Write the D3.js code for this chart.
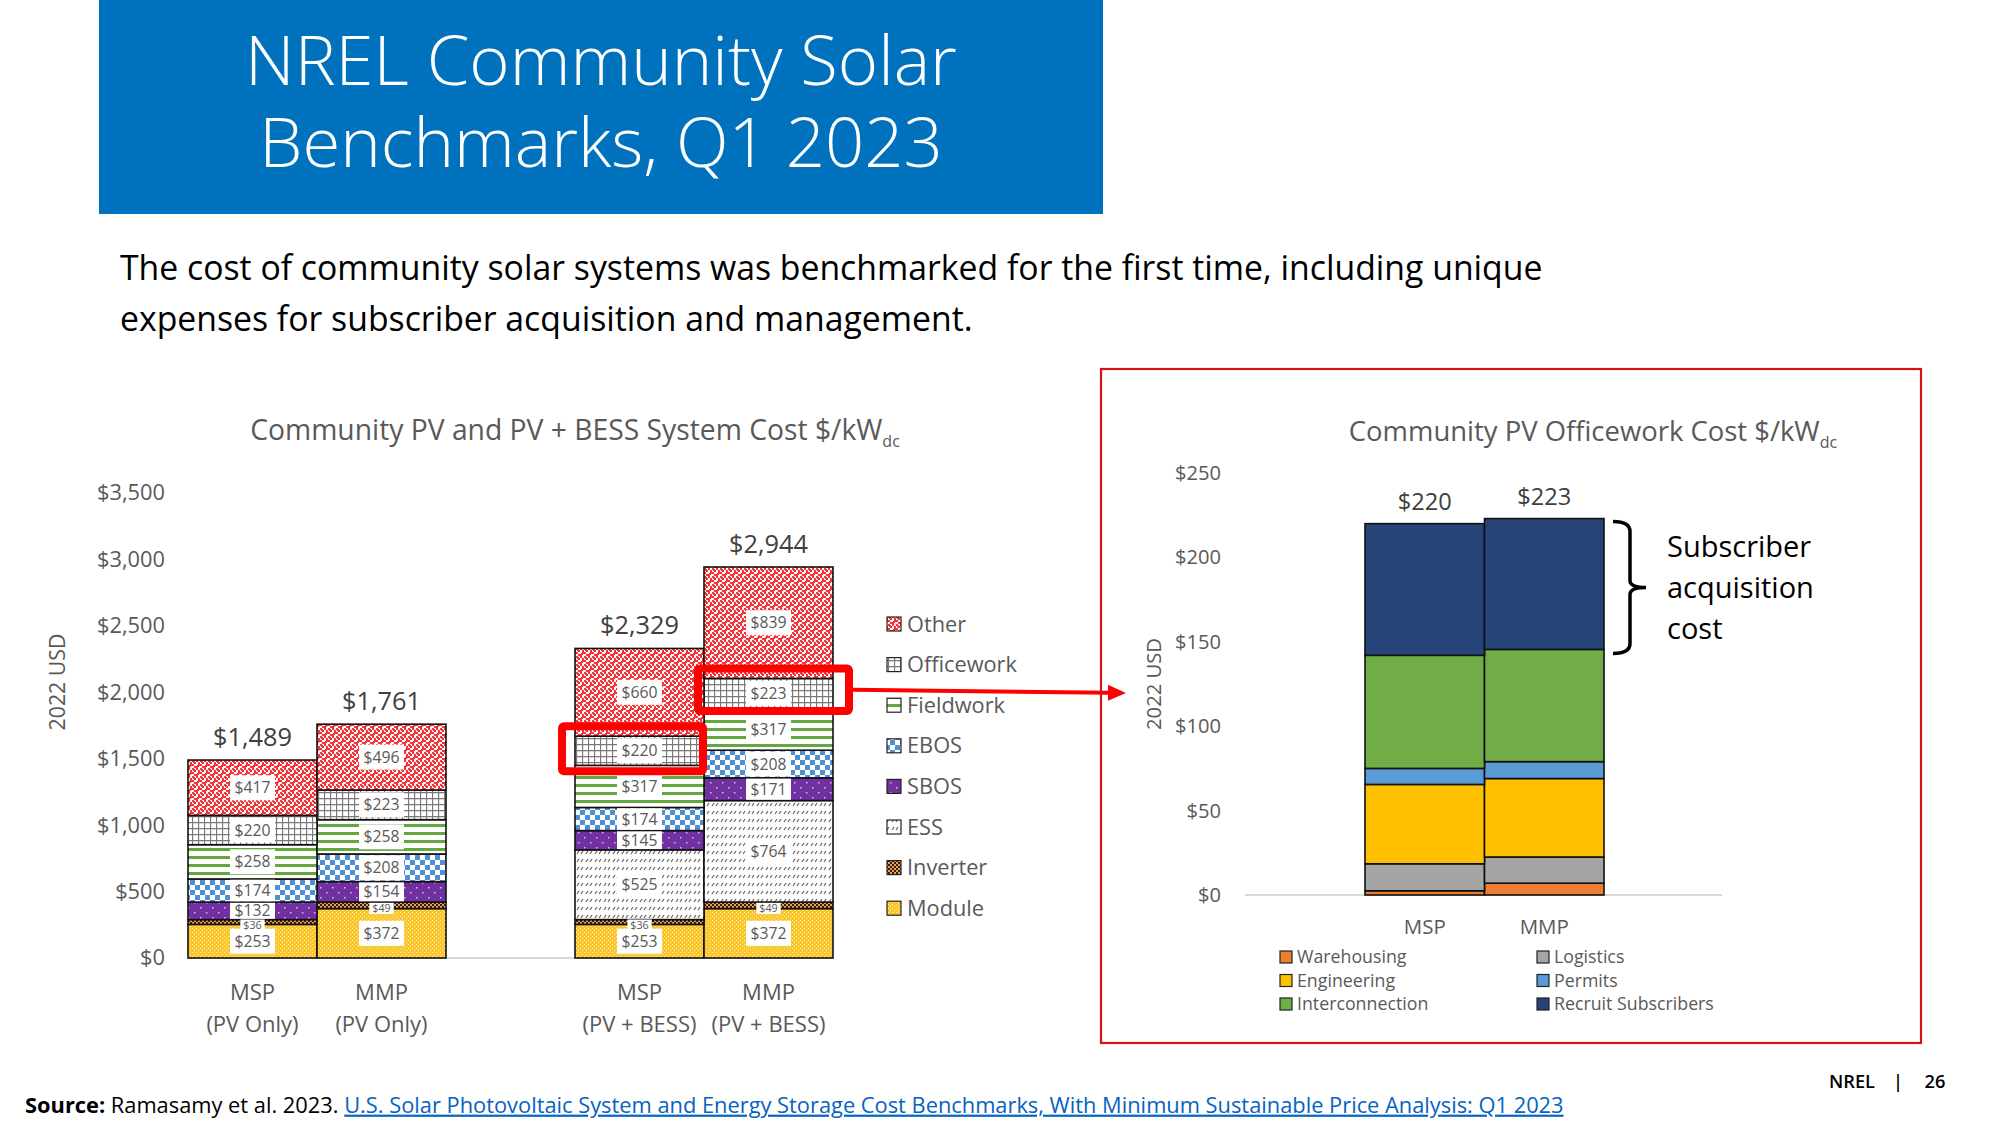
<!DOCTYPE html>
<html><head><meta charset="utf-8">
<script src="https://cdn.jsdelivr.net/npm/d3@7"></script>
<style>
body{margin:0;background:#fff}
svg{display:block}
text{font-family:'Open Sans','Noto Sans',sans-serif}
</style>
</head><body>
<svg id="s" width="2000" height="1125"></svg>
<script>
// ---------- DATA ----------
const categories = ["MSP|(PV Only)", "MMP|(PV Only)", "MSP|(PV + BESS)", "MMP|(PV + BESS)"];
const components = ["Module", "Inverter", "ESS", "SBOS", "EBOS", "Fieldwork", "Officework", "Other"];
const moduleCost = [253, 372, 253, 372];
const inverterCost = [36, 49, 36, 49];
const essCost = [0, 0, 525, 764];
const sbosCost = [132, 154, 145, 171];
const ebosCost = [174, 208, 174, 208];
const fieldworkCost = [258, 258, 317, 317];
const officeworkCost = [220, 223, 220, 223];
const otherCost = [417, 496, 660, 839];
const totals = [1489, 1761, 2329, 2944];
const leftTicks = [0, 500, 1000, 1500, 2000, 2500, 3000, 3500];
const legendLeft = ["Other", "Officework", "Fieldwork", "EBOS", "SBOS", "ESS", "Inverter", "Module"];

const officeCats = ["MSP", "MMP"];
const officeItems = ["Warehousing", "Logistics", "Engineering", "Permits", "Interconnection", "Recruit Subscribers"];
const warehousing = [2.5, 7];
const logistics = [16, 15.5];
const engineering = [47, 46.5];
const permits = [9.5, 10];
const interconnection = [67, 66.5];
const recruitSubscribers = [78, 77.5];
const officeTotals = [220, 223];
const rightTicks = [0, 50, 100, 150, 200, 250];
const legendRight = ["Warehousing", "Logistics", "Engineering", "Permits", "Interconnection", "Recruit Subscribers"];

// ---------- HELPERS ----------
const svg = d3.select("#s");
function fit(sel, w) {
  const n = sel.node();
  const fs = parseFloat(sel.style("font-size"));
  const len = n.getComputedTextLength();
  const nf = fs * w / len;
  sel.style("font-size", nf + "px");
  return nf;
}
function sizeFor(txt, w, weight) {
  const t = svg.append("text").text(txt).style("font-size", "20px").style("font-weight", weight || 400);
  const s = 20 * w / t.node().getComputedTextLength();
  t.remove();
  return s;
}
const money = v => "$" + d3.format(",")(v);

// ---------- PATTERNS ----------
const defs = svg.append("defs");
function pat(id, w, h, draw) {
  const p = defs.append("pattern").attr("id", id).attr("patternUnits", "userSpaceOnUse").attr("width", w).attr("height", h);
  draw(p);
}
pat("p-Other", 8, 8, p => {
  p.append("rect").attr("width", 8).attr("height", 8).attr("fill", "#fff2f2");
  p.append("path").attr("d", "M0,0h2v2h-2zM2,2h2v2h-2zM4,0h2v2h-2zM6,2h2v2h-2zM0,4h2v2h-2zM2,6h2v2h-2zM6,4h2v2h-2zM4,6h2v2h-2zM1,1h2v2h-2zM5,5h2v2h-2z").attr("fill", "#f0343a");
});
pat("p-Officework", 6, 6, p => {
  p.append("rect").attr("width", 6).attr("height", 6).attr("fill", "#fff");
  p.append("path").attr("d", "M0.5,0V6M0,0.5H6").attr("stroke", "#7a7a7a").attr("stroke-width", 1.3);
});
pat("p-Fieldwork", 8, 8, p => {
  p.append("rect").attr("width", 8).attr("height", 8).attr("fill", "#fff");
  p.append("rect").attr("y", 0).attr("width", 8).attr("height", 3).attr("fill", "#62a83c");
});
pat("p-EBOS", 10, 10, p => {
  p.append("rect").attr("width", 10).attr("height", 10).attr("fill", "#fff");
  p.append("path").attr("d", "M0,0h5v5h-5zM5,5h5v5h-5z").attr("fill", "#4f8fd3");
});
pat("p-SBOS", 12, 10, p => {
  p.append("rect").attr("width", 12).attr("height", 10).attr("fill", "#7030a0");
  p.append("rect").attr("x", 2).attr("y", 2).attr("width", 1.5).attr("height", 1.5).attr("fill", "#d9b8f0");
  p.append("rect").attr("x", 8).attr("y", 7).attr("width", 1.5).attr("height", 1.5).attr("fill", "#d9b8f0");
});
pat("p-ESS", 9, 8, p => {
  p.append("rect").attr("width", 9).attr("height", 8).attr("fill", "#fff");
  p.append("path").attr("d", "M1,6L3,3M5,6L7,3").attr("stroke", "#6a6a6a").attr("stroke-width", 1.3);
});
pat("p-Inverter", 4, 4, p => {
  p.append("rect").attr("width", 4).attr("height", 4).attr("fill", "#e8a060");
  p.append("path").attr("d", "M0,0h2v2h-2zM2,2h2v2h-2z").attr("fill", "#3a1c05");
});
pat("p-Module", 4, 4, p => {
  p.append("rect").attr("width", 4).attr("height", 4).attr("fill", "#f9c62e");
  p.append("path").attr("d", "M0,0h1v1h-1zM2,2h1v1h-1z").attr("fill", "#fff0b0");
});

const officeColors = {
  "Warehousing": "#ed7d31", "Logistics": "#a5a5a5", "Engineering": "#ffc000",
  "Permits": "#5b9bd5", "Interconnection": "#70ad47", "Recruit Subscribers": "#264478"
};

// ---------- HEADER ----------
svg.append("rect").attr("x", 99).attr("y", 0).attr("width", 1004).attr("height", 214).attr("fill", "#0072bd");
const titleT = svg.append("text").attr("text-anchor", "middle").attr("fill", "#fff")
  .style("font-size", "60px").style("font-weight", 300);
const tl1 = titleT.append("tspan").attr("x", 601).attr("y", 61).attr("dy", "0.35em").text("NREL Community Solar");
const tFs = 60 * 712 / tl1.node().getComputedTextLength();
titleT.style("font-size", tFs + "px");
titleT.append("tspan").attr("x", 601).attr("y", 143).attr("dy", "0.35em").text("Benchmarks, Q1 2023");

const subT = svg.append("text").attr("fill", "#000").style("font-size", "30px");
const sl1 = subT.append("tspan").attr("x", 120).attr("y", 268).attr("dy", "0.35em")
  .text("The cost of community solar systems was benchmarked for the first time, including unique");
const sFs = 30 * 1423 / sl1.node().getComputedTextLength();
subT.style("font-size", sFs + "px");
subT.append("tspan").attr("x", 120).attr("y", 319).attr("dy", "0.35em").text("expenses for subscriber acquisition and management.");

// ---------- LEFT CHART ----------
const slots = [categories[0], categories[1], "gap", categories[2], categories[3]];
const xL = d3.scaleBand().domain(slots).range([188, 833]).padding(0);
const yL = d3.scaleLinear().domain([0, 3500]).range([958, 493]);
const series = {Module: moduleCost, Inverter: inverterCost, ESS: essCost, SBOS: sbosCost, EBOS: ebosCost,
  Fieldwork: fieldworkCost, Officework: officeworkCost, Other: otherCost};
const rowsL = categories.map((c, i) => {
  const r = {cat: c, idx: i};
  components.forEach(k => r[k] = series[k][i]);
  return r;
});
const stackL = d3.stack().keys(components)(rowsL);

const gL = svg.append("g");
const lt = svg.append("text").attr("x", 575).attr("y", 430).attr("dy", "0.35em").attr("text-anchor", "middle")
  .attr("fill", "#595959").style("font-size", "24px");
lt.append("tspan").text("Community PV and PV + BESS System Cost $/kW");
lt.append("tspan").attr("dy", "7").style("font-size", "16px").text("dc");
fit(lt, 653);

gL.append("line").attr("x1", 188).attr("x2", 833).attr("y1", 958).attr("y2", 958).attr("stroke", "#d9d9d9").attr("stroke-width", 2);

const tickFsL = sizeFor("$3,500", 68);
const axL = gL.append("g").attr("transform", "translate(188,0)")
  .call(d3.axisLeft(yL).tickValues(leftTicks).tickFormat(money).tickSize(0).tickPadding(23));
axL.select(".domain").remove();
axL.selectAll("text").attr("fill", "#595959").style("font-size", tickFsL + "px").style("font-family", "'Open Sans',sans-serif");

svg.append("text").attr("transform", "translate(58,682) rotate(-90)").attr("dy", "0.35em").attr("text-anchor", "middle")
  .attr("fill", "#595959").style("font-size", sizeFor("2022 USD", 97) + "px").text("2022 USD");

stackL.forEach(s => {
  gL.selectAll(null).data(s.filter(d => d[1] - d[0] > 0)).enter().append("rect")
    .attr("x", d => xL(d.data.cat)).attr("width", xL.bandwidth())
    .attr("y", d => yL(d[1])).attr("height", d => yL(d[0]) - yL(d[1]))
    .attr("fill", "url(#p-" + s.key + ")").attr("stroke", "#111").attr("stroke-width", 1.6);
});
const lblFs = sizeFor("$417", 36);
stackL.forEach(s => {
  s.filter(d => d[1] - d[0] > 0).forEach(d => {
    const v = d[1] - d[0];
    const small = v < 60;
    const cx = xL(d.data.cat) + xL.bandwidth() / 2;
    const segH = yL(d[0]) - yL(d[1]);
    const cy = small ? (yL(d[0]) + yL(d[1])) / 2 + 3 : (yL(d[0]) + yL(d[1])) / 2;
    const g = gL.append("g");
    const t = g.append("text").attr("x", cx).attr("y", cy).attr("dy", "0.35em").attr("text-anchor", "middle")
      .attr("fill", "#595959").style("font-size", (small ? lblFs * 0.68 : lblFs) + "px").text("$" + v);
    const w = t.node().getComputedTextLength() + (small ? 6 : 9);
    const h = small ? 11 : Math.min(25, segH - 1.5);
    g.insert("rect", "text").attr("x", cx - w / 2).attr("y", cy - h / 2).attr("width", w).attr("height", h).attr("fill", "#fff");
  });
});
const totFs = sizeFor("$1,489", 79);
gL.selectAll(null).data(rowsL).enter().append("text")
  .attr("x", d => xL(d.cat) + xL.bandwidth() / 2).attr("y", (d, i) => yL(totals[i]) - 23).attr("dy", "0.35em")
  .attr("text-anchor", "middle").attr("fill", "#404040").style("font-size", totFs + "px").text((d, i) => money(totals[i]));
const catFs = sizeFor("(PV + BESS)", 114);
categories.forEach(c => {
  const parts = c.split("|");
  parts.forEach((p, j) => {
    gL.append("text").attr("x", xL(c) + xL.bandwidth() / 2).attr("y", 992 + j * 32).attr("dy", "0.35em")
      .attr("text-anchor", "middle").attr("fill", "#595959").style("font-size", catFs + "px").text(p);
  });
});
const legFs = sizeFor("Officework", 110);
legendLeft.forEach((k, i) => {
  const yy = 624 + i * 40.6;
  gL.append("rect").attr("x", 887).attr("y", yy - 7).attr("width", 14).attr("height", 14)
    .attr("fill", "url(#p-" + k + ")").attr("stroke", "#222").attr("stroke-width", 1.2);
  gL.append("text").attr("x", 907).attr("y", yy).attr("dy", "0.35em").attr("fill", "#595959")
    .style("font-size", legFs + "px").text(k);
});

function segOf(ci, key) {
  const s = stackL.find(q => q.key === key);
  return s[ci];
}
const hl = [{ci: 2, key: "Officework", l: 13, r: -1, t: 10, b: 6}, {ci: 3, key: "Officework", l: 6, r: 16, t: 10, b: 3}];
const boxes = hl.map(h => {
  const d = segOf(h.ci, h.key);
  const x0 = xL(d.data.cat) - h.l, x1 = xL(d.data.cat) + xL.bandwidth() + h.r;
  const y0 = yL(d[1]) - h.t, y1 = yL(d[0]) + h.b;
  svg.append("rect").attr("x", x0).attr("y", y0).attr("width", x1 - x0).attr("height", y1 - y0)
    .attr("fill", "none").attr("stroke", "#ff0000").attr("stroke-width", 8).attr("rx", 2);
  return {x0, x1, y0, y1};
});
const b2 = boxes[1];
const ay0 = (b2.y0 + b2.y1) / 2;
svg.append("line").attr("x1", b2.x1 + 4).attr("y1", ay0).attr("x2", 1110).attr("y2", ay0 + 3)
  .attr("stroke", "#ff0000").attr("stroke-width", 4);
svg.append("path").attr("d", `M1126,${ay0 + 3.3} L1108,${ay0 - 5} L1108,${ay0 + 11} Z`).attr("fill", "#ff0000");

// ---------- RIGHT CHART ----------
svg.append("rect").attr("x", 1101).attr("y", 369).attr("width", 820).attr("height", 674)
  .attr("fill", "none").attr("stroke", "#d41414").attr("stroke-width", 2.2);

const rt = svg.append("text").attr("x", 1593).attr("y", 431).attr("dy", "0.35em").attr("text-anchor", "middle")
  .attr("fill", "#595959").style("font-size", "24px");
rt.append("tspan").text("Community PV Officework Cost $/kW");
rt.append("tspan").attr("dy", "7").style("font-size", "16px").text("dc");
fit(rt, 491);

const xR = d3.scaleBand().domain(officeCats).range([1365, 1604]).padding(0);
const yR = d3.scaleLinear().domain([0, 250]).range([895, 473]);
const oSeries = {"Warehousing": warehousing, "Logistics": logistics, "Engineering": engineering,
  "Permits": permits, "Interconnection": interconnection, "Recruit Subscribers": recruitSubscribers};
const rowsR = officeCats.map((c, i) => {
  const r = {cat: c};
  officeItems.forEach(k => r[k] = oSeries[k][i]);
  return r;
});
const stackR = d3.stack().keys(officeItems)(rowsR);
const gR = svg.append("g");
gR.append("line").attr("x1", 1245).attr("x2", 1722).attr("y1", 895).attr("y2", 895).attr("stroke", "#d9d9d9").attr("stroke-width", 2);
const tickFsR = sizeFor("$250", 46);
const axR = gR.append("g").attr("transform", "translate(1245,0)")
  .call(d3.axisLeft(yR).tickValues(rightTicks).tickFormat(money).tickSize(0).tickPadding(24));
axR.select(".domain").remove();
axR.selectAll("text").attr("fill", "#595959").style("font-size", tickFsR + "px").style("font-family", "'Open Sans',sans-serif");
svg.append("text").attr("transform", "translate(1154,684) rotate(-90)").attr("dy", "0.35em").attr("text-anchor", "middle")
  .attr("fill", "#595959").style("font-size", sizeFor("2022 USD", 92) + "px").text("2022 USD");

stackR.forEach(s => {
  gR.selectAll(null).data(s).enter().append("rect")
    .attr("x", d => xR(d.data.cat)).attr("width", xR.bandwidth())
    .attr("y", d => yR(d[1])).attr("height", d => yR(d[0]) - yR(d[1]))
    .attr("fill", officeColors[s.key]).attr("stroke", "#111").attr("stroke-width", 1.6);
});
const rtotFs = sizeFor("$220", 54);
gR.selectAll(null).data(rowsR).enter().append("text")
  .attr("x", d => xR(d.cat) + xR.bandwidth() / 2).attr("y", (d, i) => yR(officeTotals[i]) - 22).attr("dy", "0.35em")
  .attr("text-anchor", "middle").attr("fill", "#404040").style("font-size", rtotFs + "px").text((d, i) => "$" + officeTotals[i]);
const rcatFs = sizeFor("MSP", 42);
officeCats.forEach(c => {
  gR.append("text").attr("x", xR(c) + xR.bandwidth() / 2).attr("y", 927).attr("dy", "0.35em").attr("text-anchor", "middle")
    .attr("fill", "#595959").style("font-size", rcatFs + "px").text(c);
});
const rlegFs = sizeFor("Recruit Subscribers", 160);
legendRight.forEach((k, i) => {
  const col = i % 2, row = Math.floor(i / 2);
  const xx = col === 0 ? 1280 : 1537;
  const yy = 957 + row * 23.5;
  gR.append("rect").attr("x", xx).attr("y", yy - 6).attr("width", 12).attr("height", 12)
    .attr("fill", officeColors[k]).attr("stroke", "#222").attr("stroke-width", 1.2);
  gR.append("text").attr("x", xx + 17).attr("y", yy).attr("dy", "0.35em").attr("fill", "#595959")
    .style("font-size", rlegFs + "px").text(k);
});
const recTop = yR(officeTotals[1]) + 3;
const recBot = yR(officeTotals[1] - recruitSubscribers[1]) + 4;
const bx = 1613, bm = (recTop + recBot) / 2;
svg.append("path").attr("d",
  `M${bx},${recTop} Q${bx + 17},${recTop} ${bx + 17},${recTop + 10} L${bx + 17},${bm - 7} Q${bx + 17},${bm} ${bx + 33},${bm} ` +
  `Q${bx + 17},${bm} ${bx + 17},${bm + 7} L${bx + 17},${recBot - 10} Q${bx + 17},${recBot} ${bx},${recBot}`)
  .attr("fill", "none").attr("stroke", "#000").attr("stroke-width", 3.5);
const subFs = sizeFor("acquisition", 147);
["Subscriber", "acquisition", "cost"].forEach((w, i) => {
  svg.append("text").attr("x", 1667).attr("y", 547 + i * 41).attr("dy", "0.35em").attr("fill", "#000")
    .style("font-size", subFs + "px").text(w);
});

// ---------- FOOTER ----------
const ft = svg.append("text").attr("x", 25).attr("y", 1105).attr("dy", "0.35em").attr("fill", "#000").style("font-size", "20px");
ft.append("tspan").style("font-weight", 700).text("Source:");
ft.append("tspan").text(" Ramasamy et al. 2023. ");
ft.append("tspan").attr("fill", "#0563c1").style("text-decoration", "underline")
  .text("U.S. Solar Photovoltaic System and Energy Storage Cost Benchmarks, With Minimum Sustainable Price Analysis: Q1 2023");
fit(ft, 1539);

const nfs = sizeFor("NREL", 46, 600);
svg.append("text").attr("x", 1829).attr("y", 1082).attr("dy", "0.35em").attr("fill", "#000").style("font-weight", 600).style("font-size", nfs + "px").text("NREL");
svg.append("text").attr("x", 1898).attr("y", 1082).attr("dy", "0.35em").attr("text-anchor", "middle").attr("fill", "#000").style("font-weight", 600).style("font-size", nfs + "px").text("|");
svg.append("text").attr("x", 1935).attr("y", 1082).attr("dy", "0.35em").attr("text-anchor", "middle").attr("fill", "#000").style("font-weight", 600).style("font-size", nfs + "px").text("26");
</script>
</body></html>
